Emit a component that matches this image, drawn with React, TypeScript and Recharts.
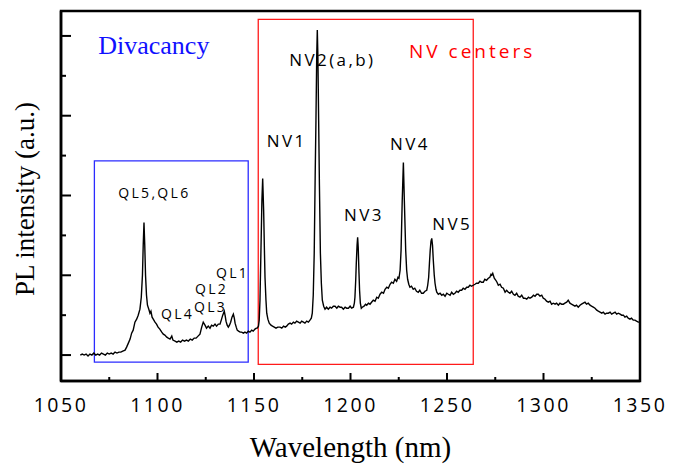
import React from 'react';
import {
  ComposedChart,
  Line,
  Scatter,
  XAxis,
  YAxis,
  ReferenceArea,
} from 'recharts';

// PL spectrum: [wavelength (nm), intensity (a.u.)]
const spectrumPoints: [number, number][] = [
  [1060.0, 0], [1061.0, 1], [1062.0, 0], [1063.0, 1], [1064.0, -1], [1065.0, 1],
  [1066.0, 0], [1067.0, 2], [1068.0, 0], [1069.0, 1], [1070.0, 0], [1071.0, 2],
  [1072.0, 1], [1073.0, 0], [1074.0, 2], [1075.0, 1], [1076.0, 2], [1077.0, 1],
  [1078.0, 3], [1079.0, 2], [1080.0, 3], [1081.0, 3], [1082.0, 4], [1083.2, 5],
  [1084.0, 8], [1084.9, 12], [1085.8, 16], [1086.6, 22], [1087.4, 25], [1088.3, 33],
  [1089.2, 36], [1090.0, 40], [1090.9, 46], [1091.6, 58], [1092.2, 80], [1092.6, 110],
  [1093.0, 133], [1093.4, 110], [1093.8, 80], [1094.3, 60], [1094.8, 50], [1095.5, 46],
  [1096.1, 42], [1096.6, 44], [1097.2, 38], [1097.8, 36], [1098.7, 33], [1099.5, 31],
  [1100.3, 28], [1101.2, 26], [1102.2, 23], [1103.0, 21], [1103.8, 20], [1104.8, 18],
  [1105.6, 17], [1106.5, 16], [1107.4, 19], [1108.0, 15], [1109.1, 14], [1110.0, 13],
  [1111.0, 14], [1112.0, 13], [1113.0, 15], [1114.0, 14], [1115.0, 15], [1116.0, 14],
  [1117.0, 16], [1118.0, 15], [1119.0, 17], [1120.0, 17], [1121.0, 19], [1122.0, 21],
  [1122.9, 28], [1123.7, 33], [1124.6, 30], [1125.4, 27], [1126.3, 29], [1127.2, 27],
  [1128.0, 30], [1128.9, 29], [1129.8, 31], [1130.6, 29], [1131.5, 31], [1132.4, 31],
  [1133.2, 36], [1133.8, 40], [1134.6, 44], [1135.1, 39], [1135.5, 34], [1136.1, 30],
  [1136.7, 28], [1137.3, 30], [1137.9, 33], [1138.6, 38], [1139.3, 41], [1139.8, 37],
  [1140.2, 32], [1140.8, 28], [1141.3, 25], [1142.0, 24], [1142.8, 23], [1143.6, 23],
  [1144.5, 22], [1145.3, 23], [1146.2, 22], [1147.0, 24], [1147.9, 23], [1148.8, 25],
  [1149.6, 24], [1150.5, 26], [1151.2, 27], [1151.7, 27], [1152.3, 29], [1152.7, 35],
  [1153.1, 55], [1153.5, 95], [1154.1, 155], [1154.5, 177], [1155.0, 145], [1155.4, 105],
  [1155.7, 78], [1156.2, 55], [1156.6, 42], [1157.2, 36], [1157.9, 32], [1158.8, 30],
  [1159.6, 29], [1160.5, 28], [1161.4, 27], [1162.3, 28], [1163.5, 28], [1164.4, 27],
  [1165.3, 29], [1166.2, 28], [1166.9, 29], [1167.8, 31], [1168.7, 32], [1169.5, 31],
  [1170.4, 33], [1171.2, 32], [1172.1, 34], [1173.0, 33], [1173.9, 32], [1174.7, 34],
  [1175.6, 33], [1176.4, 32], [1177.3, 34], [1178.2, 33], [1179.0, 35], [1179.7, 37],
  [1180.2, 42], [1180.7, 60], [1181.2, 102], [1181.7, 180], [1182.1, 235], [1182.5, 300],
  [1182.8, 326], [1183.1, 300], [1183.5, 235], [1183.9, 170], [1184.4, 102], [1184.9, 72],
  [1185.4, 55], [1186.1, 49], [1186.8, 46], [1187.6, 48], [1188.5, 46], [1189.4, 48],
  [1190.2, 47], [1191.1, 49], [1192.0, 49], [1192.9, 47], [1193.7, 49], [1194.6, 48],
  [1195.4, 48], [1196.3, 46], [1197.2, 48], [1198.0, 47], [1198.9, 47], [1199.8, 49],
  [1200.6, 47], [1201.5, 48], [1202.0, 52], [1202.3, 58], [1202.7, 75], [1203.0, 92],
  [1203.4, 110], [1203.7, 118], [1204.0, 108], [1204.4, 82], [1204.7, 65], [1205.1, 52],
  [1205.6, 47], [1206.1, 48], [1207.0, 49], [1207.8, 51], [1208.4, 50], [1209.3, 52],
  [1210.1, 51], [1210.9, 53], [1211.8, 55], [1212.7, 54], [1213.6, 58], [1214.4, 57],
  [1215.3, 61], [1216.2, 63], [1217.1, 62], [1217.9, 66], [1218.8, 68], [1219.6, 67],
  [1220.5, 71], [1221.3, 73], [1222.2, 72], [1223.0, 76], [1223.9, 74], [1224.6, 78],
  [1225.1, 77], [1225.7, 85], [1226.2, 105], [1226.8, 155], [1227.4, 193], [1227.9, 155],
  [1228.6, 105], [1229.1, 85], [1229.6, 76], [1230.2, 71], [1230.8, 68], [1231.6, 69],
  [1232.5, 66], [1233.3, 67], [1234.2, 64], [1235.1, 63], [1235.9, 65], [1236.8, 62],
  [1237.7, 62], [1238.6, 64], [1239.5, 65], [1240.0, 70], [1240.5, 78], [1240.9, 92],
  [1241.3, 105], [1241.7, 114], [1242.1, 117], [1242.5, 110], [1242.9, 95], [1243.4, 80],
  [1243.8, 72], [1244.3, 66], [1244.7, 63], [1245.5, 61], [1246.4, 62], [1247.3, 60],
  [1248.1, 61], [1249.0, 59], [1249.9, 62], [1250.7, 61], [1251.6, 60], [1252.4, 63],
  [1253.3, 61], [1254.1, 62], [1255.0, 64], [1255.8, 63], [1256.7, 65], [1257.6, 65],
  [1258.4, 67], [1259.3, 66], [1260.2, 68], [1261.0, 68], [1261.9, 70], [1262.7, 69],
  [1263.6, 70], [1264.5, 71], [1265.3, 72], [1266.2, 72], [1267.1, 74], [1267.9, 73],
  [1268.8, 73], [1269.6, 76], [1270.5, 75], [1271.4, 77], [1272.2, 78], [1272.8, 81],
  [1273.2, 80], [1273.7, 82], [1274.5, 77], [1275.3, 75], [1275.9, 73], [1276.6, 70],
  [1277.5, 71], [1278.3, 68], [1279.2, 67], [1280.1, 63], [1280.9, 65], [1281.8, 63],
  [1282.6, 62], [1283.5, 64], [1284.4, 61], [1285.2, 60], [1286.1, 62], [1286.9, 59],
  [1287.8, 58], [1288.7, 60], [1289.6, 57], [1290.4, 57], [1291.3, 56], [1292.2, 58],
  [1293.0, 57], [1293.9, 58], [1294.8, 60], [1295.6, 59], [1296.5, 61], [1297.3, 61],
  [1298.2, 59], [1299.1, 60], [1299.9, 57], [1300.8, 56], [1301.6, 54], [1302.5, 53],
  [1303.4, 54], [1304.2, 51], [1305.1, 52], [1306.0, 51], [1306.8, 52], [1307.7, 50],
  [1308.5, 52], [1309.4, 51], [1310.3, 51], [1311.1, 52], [1312.0, 53], [1312.8, 55],
  [1313.7, 52], [1314.5, 51], [1315.4, 50], [1316.3, 49], [1317.1, 50], [1318.0, 48],
  [1318.9, 50], [1319.7, 51], [1320.6, 52], [1321.5, 53], [1322.3, 51], [1323.2, 52],
  [1324.1, 50], [1324.9, 49], [1325.8, 48], [1326.7, 47], [1327.6, 45], [1328.4, 44],
  [1329.3, 43], [1330.2, 42], [1331.0, 43], [1331.9, 41], [1332.7, 42], [1333.6, 42],
  [1334.5, 43], [1335.3, 41], [1336.2, 42], [1337.1, 43], [1337.9, 41], [1338.8, 42],
  [1339.7, 41], [1340.5, 40], [1341.4, 40], [1342.2, 38], [1343.1, 39], [1343.9, 37],
  [1344.8, 36], [1345.6, 37], [1346.5, 35], [1347.4, 35], [1348.2, 34], [1349.1, 33],
  [1350.0, 33],
];

const xTicks = [1050, 1075, 1100, 1125, 1150, 1175, 1200, 1225, 1250, 1275, 1300, 1325, 1350];
const yTicks = [0, 40, 80, 120, 160, 200, 240, 280, 320];
const xDomain: [number, number] = [1050, 1350];
const yDomain: [number, number] = [-26, 345];

// peak annotations: text, wavelength, intensity (text start / baseline)
const qlLabels = ['QL5,QL6', 'QL4', 'QL3', 'QL2', 'QL1'];
const qlLabelX = [1079.7, 1101.8, 1118.9, 1119.4, 1130.3];
const qlLabelY = [157.7, 36, 42.7, 61.7, 77.3];

const nvLabels = ['NV1', 'NV2(a,b)', 'NV3', 'NV4', 'NV5'];
const nvLabelX = [1156.6, 1168.3, 1196.6, 1220.5, 1242.4];
const nvLabelY = [208.3, 290, 134.3, 206, 125];

const groupTitles = ['Divacancy', 'NV centers'];
const groupTitleX = [1069.3, 1230.3];
const groupTitleY = [301.7, 297.7];

// regions (boxes): [x1, x2, y1, y2]
const divacancyBox = [1067.3, 1147.0, -7, 194.7];
const nvBox = [1152.2, 1263.6, -9.3, 336.7];

const spectrum = spectrumPoints.map(([w, v]) => ({ wavelength: w, intensity: v }));
const toLabelData = (texts: string[], xs: number[], ys: number[]) =>
  texts.map((t, i) => ({ wavelength: xs[i], intensity: ys[i], text: t }));

const qlData = toLabelData(qlLabels, qlLabelX, qlLabelY);
const nvData = toLabelData(nvLabels, nvLabelX, nvLabelY);
const divData = toLabelData([groupTitles[0]], [groupTitleX[0]], [groupTitleY[0]]);
const nvTitleData = toLabelData([groupTitles[1]], [groupTitleX[1]], [groupTitleY[1]]);

const SANS = '"Open Sans", "DejaVu Sans", sans-serif';
const SERIF = '"Liberation Serif", "Times New Roman", serif';

const XTick = (props: any) => {
  const { x, y, payload } = props;
  const major = payload.value % 50 === 0;
  return (
    <g>
      <line x1={x} x2={x} y1={y} y2={y - (major ? 8 : 4)} stroke="#000" strokeWidth={2} />
      {major && (
        <text
          x={x}
          y={y + 31}
          textAnchor="middle"
          fontFamily={SANS}
          fontSize={19.5}
          letterSpacing={2.5}
          fill="#000"
        >
          {payload.value}
        </text>
      )}
    </g>
  );
};

const YTick = (props: any) => {
  const { x, y, payload } = props;
  const major = payload.value % 80 === 0;
  return <line x1={x} x2={x + (major ? 10 : 5)} y1={y} y2={y} stroke="#000" strokeWidth={2} />;
};

const XTitle = (props: any) => {
  const vb = props.viewBox || { x: 61, y: 381, width: 579, height: 85 };
  return (
    <text
      x={vb.x + vb.width / 2}
      y={vb.y + 76}
      textAnchor="middle"
      fontFamily={SERIF}
      fontSize={29}
      fill="#000"
    >
      Wavelength (nm)
    </text>
  );
};

const YTitle = (props: any) => {
  const vb = props.viewBox || { x: 0, y: 11, width: 61, height: 370 };
  const cx = vb.x + 33.5;
  const cy = vb.y + vb.height / 2 + 3;
  return (
    <text
      x={cx}
      y={cy}
      transform={`rotate(-90, ${cx}, ${cy})`}
      textAnchor="middle"
      fontFamily={SERIF}
      fontSize={27}
      fill="#000"
    >
      PL intensity (a.u.)
    </text>
  );
};

const textShape = (style: Record<string, any>) => (p: any) => (
  <text x={p.cx} y={p.cy} {...style}>
    {p.payload.text}
  </text>
);

export default function App() {
  return (
    <div style={{ position: 'absolute', left: 0, top: 0, width: 693, height: 466, background: '#fff' }}>
      <ComposedChart
        width={693}
        height={466}
        data={spectrum}
        margin={{ top: 11, right: 53, bottom: 0, left: 0 }}
      >
        <XAxis
          dataKey="wavelength"
          type="number"
          domain={xDomain}
          ticks={xTicks}
          interval={0}
          allowDataOverflow
          height={85}
          tickSize={0}
          tickMargin={0}
          tickLine={false}
          axisLine={{ stroke: '#000', strokeWidth: 2.5 }}
          tick={<XTick />}
          label={<XTitle />}
        />
        <YAxis
          type="number"
          domain={yDomain}
          ticks={yTicks}
          interval={0}
          allowDataOverflow
          width={61}
          tickSize={0}
          tickMargin={0}
          tickLine={false}
          axisLine={{ stroke: '#000', strokeWidth: 2.5 }}
          tick={<YTick />}
          label={<YTitle />}
        />
        {/* plot frame */}
        <ReferenceArea
          x1={xDomain[0]}
          x2={xDomain[1]}
          y1={yDomain[0]}
          y2={yDomain[1]}
          fill="none"
          fillOpacity={0}
          stroke="#000"
          strokeWidth={2.5}
          ifOverflow="visible"
        />
        <ReferenceArea
          x1={divacancyBox[0]}
          x2={divacancyBox[1]}
          y1={divacancyBox[2]}
          y2={divacancyBox[3]}
          fill="none"
          fillOpacity={0}
          stroke="#2b2bff"
          strokeWidth={1.3}
          ifOverflow="visible"
        />
        <ReferenceArea
          x1={nvBox[0]}
          x2={nvBox[1]}
          y1={nvBox[2]}
          y2={nvBox[3]}
          fill="none"
          fillOpacity={0}
          stroke="#ff1a1a"
          strokeWidth={1.3}
          ifOverflow="visible"
        />
        <Line
          type="linear"
          dataKey="intensity"
          stroke="#000"
          strokeWidth={1.4}
          dot={false}
          activeDot={false}
          isAnimationActive={false}
        />
        <Scatter
          data={qlData}
          dataKey="intensity"
          isAnimationActive={false}
          shape={textShape({ fontFamily: SANS, fontSize: 14, letterSpacing: 2.3, fill: '#000' })}
        />
        <Scatter
          data={nvData}
          dataKey="intensity"
          isAnimationActive={false}
          shape={textShape({ fontFamily: SANS, fontSize: 17, letterSpacing: 2.4, fill: '#000' })}
        />
        <Scatter
          data={divData}
          dataKey="intensity"
          isAnimationActive={false}
          shape={textShape({ fontFamily: SERIF, fontSize: 26, fill: '#1010ff' })}
        />
        <Scatter
          data={nvTitleData}
          dataKey="intensity"
          isAnimationActive={false}
          shape={textShape({ fontFamily: SANS, fontSize: 19, letterSpacing: 3, fill: '#ff0000' })}
        />
      </ComposedChart>
    </div>
  );
}
